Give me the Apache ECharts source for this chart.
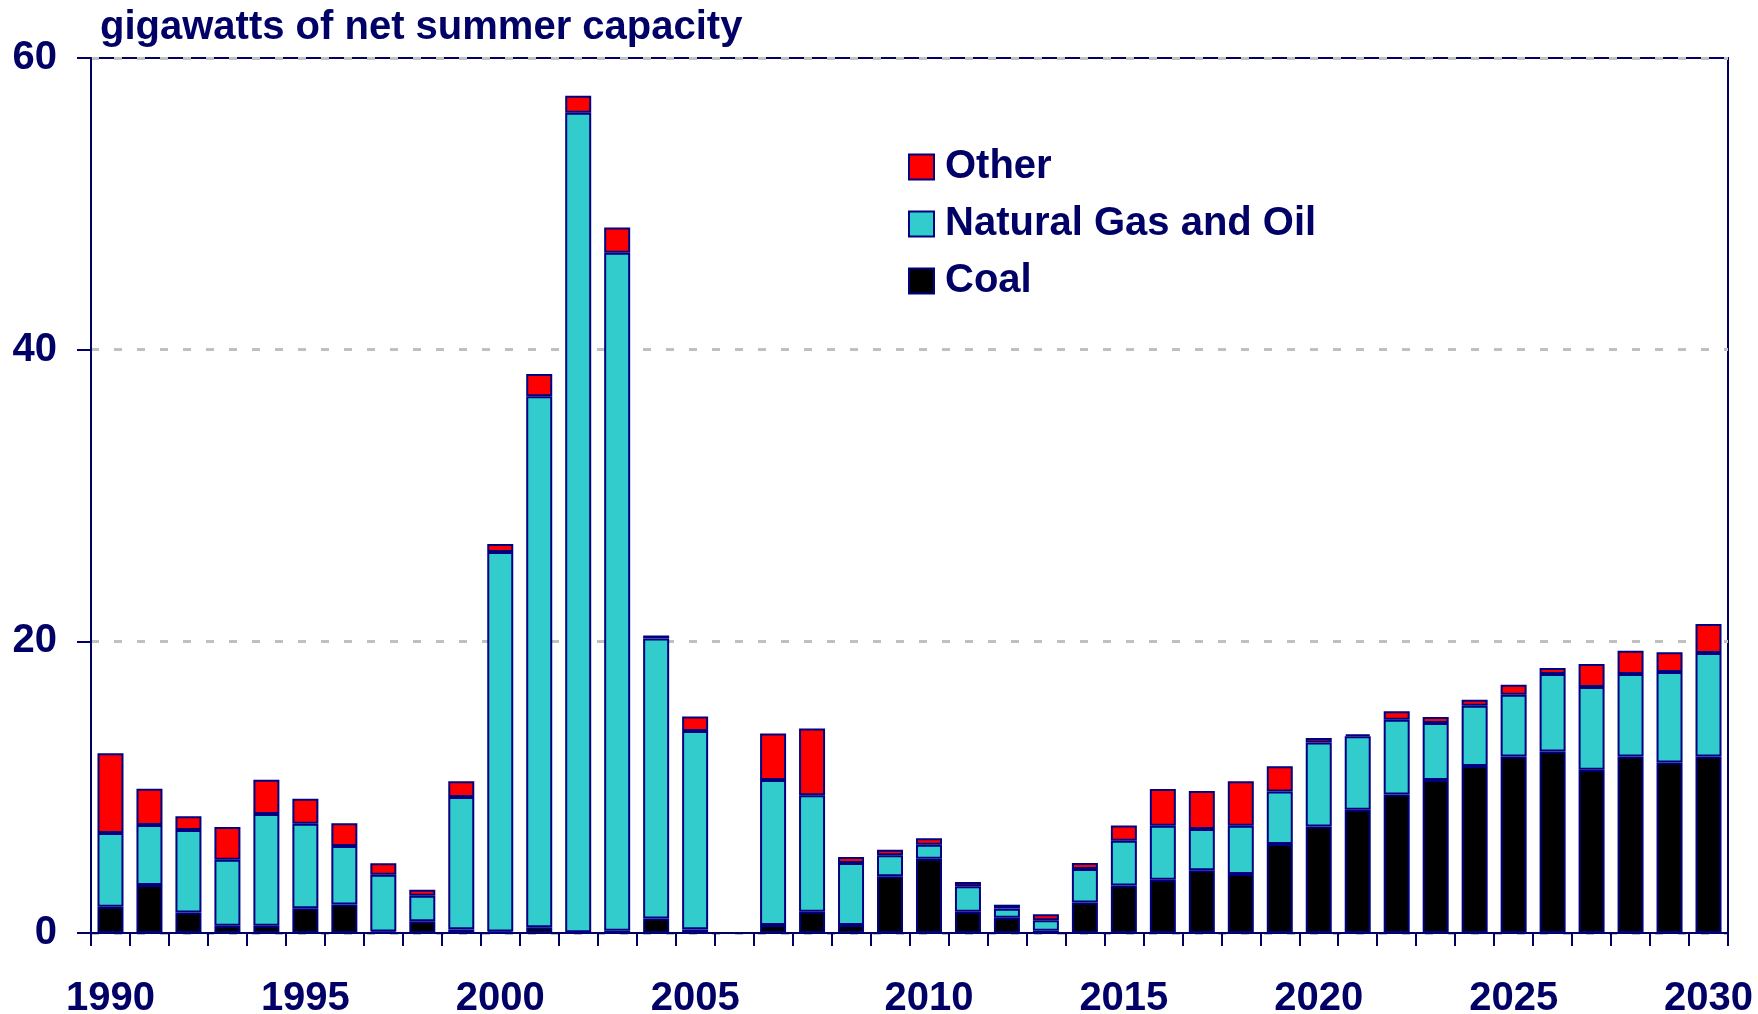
<!DOCTYPE html>
<html>
<head>
<meta charset="utf-8">
<script src="https://cdn.jsdelivr.net/npm/echarts@6/dist/echarts.min.js"></script>
<style>
  html, body { margin: 0; padding: 0; background: #fff; }
  #chart { width: 1758px; height: 1014px; }
</style>
</head>
<body>
<div id="chart"></div>
<script>
// categories: 1990-2005 history, blank spacer, 2006-2030 projections
const years = ["1990", "1991", "1992", "1993", "1994", "1995", "1996", "1997", "1998", "1999",
  "2000", "2001", "2002", "2003", "2004", "2005", " ",
  "2006", "2007", "2008", "2009", "2010", "2011", "2012", "2013", "2014", "2015",
  "2016", "2017", "2018", "2019", "2020", "2021", "2022", "2023", "2024", "2025",
  "2026", "2027", "2028", "2029", "2030"];

// labels shown under the x axis
const tickLabels = ["1990", "1995", "2000", "2005", "2010", "2015", "2020", "2025", "2030"];

// gigawatts, stacked bottom to top
const coal = [1.8, 3.3, 1.4, 0.5, 0.5, 1.7, 1.95, 0.1, 0.8, 0.25,
  0.1, 0.4, 0.05, 0.15, 1.0, 0.25, null,
  0.55, 1.45, 0.55, 3.9, 5.1, 1.45, 1.05, 0.15, 2.1, 3.25,
  3.65, 4.3, 4.05, 6.1, 7.3, 8.45, 9.5, 10.5, 11.45, 12.1,
  12.45, 11.2, 12.1, 11.7, 12.1];

const gasOil = [5.05, 4.1, 5.67, 4.53, 7.66, 5.8, 4.02, 3.9, 1.76, 9.08,
  26.03, 36.4, 56.2, 46.5, 19.2, 13.6, null,
  9.95, 8.0, 4.25, 1.43, 0.96, 1.75, 0.62, 0.72, 2.29, 3.08,
  3.71, 2.83, 3.31, 3.61, 5.77, 5.04, 5.13, 3.9, 4.14, 4.24,
  5.31, 5.67, 5.66, 6.2, 7.1];

const other = [5.48, 2.49, 0.94, 2.24, 2.35, 1.71, 1.55, 0.78, 0.41, 1.07,
  0.54, 1.53, 1.17, 1.72, 0.2, 0.99, null,
  3.18, 4.57, 0.41, 0.38, 0.43, 0.3, 0.27, 0.41, 0.41, 1.05,
  2.51, 2.61, 3.04, 1.72, 0.3, 0.13, 0.57, 0.41, 0.41, 0.69,
  0.41, 1.58, 1.6, 1.35, 1.99];

const navy = "#000066";
const font = 'Arial, "Liberation Sans", sans-serif';

let myChart = echarts.init(document.getElementById("chart"));

function barSeries(name, data, color) {
  return {
    name: name,
    type: "bar",
    stack: "total",
    barWidth: 26,
    data: data,
    itemStyle: {
      color: color,
      borderColor: "#000080",
      borderWidth: 2
    }
  };
}

let option = {
  animation: false,
  textStyle: { fontFamily: font },
  title: {
    text: "gigawatts of net summer capacity",
    left: 95,
    top: 3,
    textStyle: { color: navy, fontSize: 40, fontWeight: "bold", fontFamily: font }
  },
  legend: {
    orient: "vertical",
    left: 903,
    top: 142,
    icon: "rect",
    itemWidth: 25,
    itemHeight: 25,
    itemGap: 17,
    data: ["Other", "Natural Gas and Oil", "Coal"],
    textStyle: { color: navy, fontSize: 40, fontWeight: "bold", fontFamily: font, padding: [0, 0, 0, 6] }
  },
  grid: {
    left: 91,
    right: 30,
    top: 58,
    bottom: 81,
    outerBoundsMode: "none",
    show: true,
    borderColor: navy,
    borderWidth: 2
  },
  xAxis: {
    type: "category",
    data: years,
    axisLine: { lineStyle: { color: navy, width: 2 } },
    axisTick: { show: true, interval: 0, length: 13, lineStyle: { color: navy, width: 2 } },
    axisLabel: {
      interval: function (index, value) {
        return tickLabels.indexOf(value) >= 0;
      },
      margin: 46,
      color: navy,
      fontSize: 40,
      fontWeight: "bold",
      fontFamily: font
    }
  },
  yAxis: {
    type: "value",
    min: 0,
    max: 60,
    interval: 20,
    axisLine: { show: true, lineStyle: { color: navy, width: 2 } },
    axisTick: { show: true, length: 14, lineStyle: { color: navy, width: 2 } },
    axisLabel: { margin: 34, color: navy, fontSize: 40, fontWeight: "bold", fontFamily: font },
    splitLine: { lineStyle: { color: "#C0C0C0", width: 3, type: [8, 15] } }
  },
  series: [
    barSeries("Coal", coal, "#000000"),
    barSeries("Natural Gas and Oil", gasOil, "#33CCCC"),
    barSeries("Other", other, "#FF0000")
  ]
};

myChart.setOption(option);
</script>
</body>
</html>
